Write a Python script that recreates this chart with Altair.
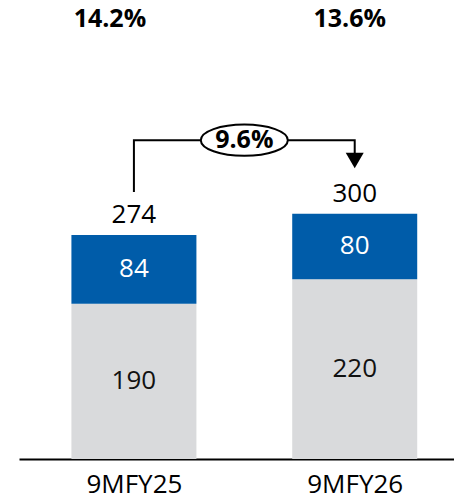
import altair as alt
import pandas as pd

categories = ["9MFY25", "9MFY26"]
bottom_vals = [190, 220]
top_vals = [84, 80]
totals = [274, 300]
margins = ["14.2%", "13.6%"]
growth = "9.6%"

BLUE = "#005CA9"
GREY = "#D9DADC"
FONT = "Open Sans"
FS = 26

idx = list(range(len(categories)))
seg = pd.DataFrame({
    "i": idx * 2,
    "y0": [0] * 2 + bottom_vals,
    "y1": bottom_vals + [b + t for b, t in zip(bottom_vals, top_vals)],
    "v": bottom_vals + top_vals,
    "seg": ["base"] * 2 + ["top"] * 2,
})
seg["mid"] = (seg["y0"] + seg["y1"]) / 2
tot = pd.DataFrame({"i": idx, "total": totals, "cat": categories})

gap = 52.5
ytop = max(totals) + 90
bracket = pd.DataFrame({
    "i": [0, 0, 1, 1],
    "y": [totals[0] + gap, ytop, ytop, totals[1] + gap + 13],
    "o": [0, 1, 2, 3],
})
arrow = pd.DataFrame({"i": [1], "y": [totals[1] + gap + 12.7]})
oval = pd.DataFrame({"i": [0.5], "y": [ytop], "t": [growth]})

xs = alt.Scale(domain=[-0.4978, 1.427], nice=False, zero=False)
ys = alt.Scale(domain=[0, 561.5], nice=False, zero=True)
label_expr = "[" + ",".join(f"'{c}'" for c in categories) + "][datum.value]"

X = alt.X("i:Q", scale=xs, axis=alt.Axis(values=idx, labelExpr=label_expr, title=None,
          ticks=False, tickSize=0, grid=False, domainColor="#000", domainWidth=2,
          labelFont=FONT, labelFontSize=FS, labelColor="#000", labelPadding=12))


def Y(f):
    return alt.Y(f, scale=ys, axis=None)


bars = alt.Chart(seg).mark_bar(size=125).encode(
    x=X,
    y=Y("y0:Q"),
    y2="y1:Q",
    color=alt.Color("seg:N", scale=alt.Scale(domain=["base", "top"], range=[GREY, BLUE]), legend=None),
)
seg_text = alt.Chart(seg).mark_text(font=FONT, fontSize=FS, baseline="middle").encode(
    x=X,
    y=Y("mid:Q"),
    text="v:Q",
    color=alt.Color("seg:N", scale=alt.Scale(domain=["base", "top"], range=["#111111", "#ffffff"]), legend=None),
)
tot_text = alt.Chart(tot).mark_text(font=FONT, fontSize=FS, baseline="alphabetic", dy=-12, color="#000").encode(
    x=X, y=Y("total:Q"), text="total:Q",
)
m0 = alt.Chart(pd.DataFrame({"i": [0], "t": [margins[0]]})).mark_text(
    font=FONT, fontSize=25, fontWeight="bold", baseline="alphabetic", dx=-24, color="#000").encode(
    x=X, y=alt.value(27), text="t:N")
m1 = alt.Chart(pd.DataFrame({"i": [1], "t": [margins[1]]})).mark_text(
    font=FONT, fontSize=25, fontWeight="bold", baseline="alphabetic", dx=-5, color="#000").encode(
    x=X, y=alt.value(27), text="t:N")

line = alt.Chart(bracket).mark_line(color="#000", strokeWidth=2).encode(
    x=X, y=Y("y:Q"), order="o:Q")
arrow_m = alt.Chart(arrow).mark_point(shape="triangle-down", size=324, filled=True, color="#000", opacity=1).encode(
    x=X, y=Y("y:Q"))
ellipse = alt.Chart(oval).mark_point(
    shape="M-1,0A1,0.36,0,1,0,1,0A1,0.36,0,1,0,-1,0Z", size=7569, filled=True,
    fill="#fff", stroke="#000", strokeWidth=2, opacity=1, fillOpacity=1).encode(
    x=X, y=Y("y:Q"))
oval_text = alt.Chart(oval).mark_text(font=FONT, fontSize=25, fontWeight="bold", baseline="middle", color="#000").encode(
    x=X, y=Y("y:Q"), text="t:N")

chart = alt.layer(bars, seg_text, tot_text, m0, m1, line, arrow_m, ellipse, oval_text).resolve_scale(
    color="independent"
).properties(
    width=435, height=459,
    background="#ffffff",
    autosize=alt.AutoSizeParams(type="none"),
    padding={"left": 19, "top": 0, "right": 0, "bottom": 40},
).configure_view(strokeWidth=0, strokeOpacity=0)

chart.save("out.html", embed_options={"renderer": "svg", "actions": False})
